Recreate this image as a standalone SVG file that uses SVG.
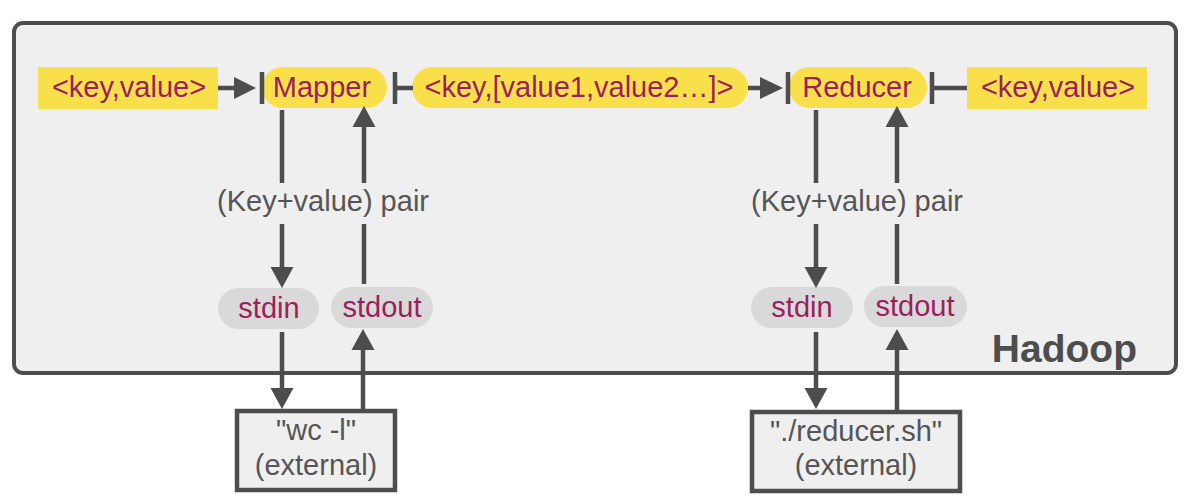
<svg xmlns="http://www.w3.org/2000/svg" width="1200" height="503" viewBox="0 0 1200 503">
<style>
.t{font-family:"Liberation Sans",Arial,sans-serif;font-size:29px;text-anchor:middle}
.m{fill:#9c1f5c}
.g{fill:#555555}
.y{fill:#f9e04b}
.p{fill:#d9d9d9}
.ln{stroke:#4d4d4d;stroke-width:4.5;fill:none}
.hd{fill:#4d4d4d}
.bx{fill:#efefef;stroke:#4d4d4d;stroke-width:4.5}
</style>
<rect width="1200" height="503" fill="#ffffff"/>
<g id="hadoop">
<rect x="14" y="23" width="1162" height="350" rx="9" fill="#efefef" stroke="#4d4d4d" stroke-width="4"/>
<text x="1137" y="362" text-anchor="end" style="font-family:'Liberation Sans',Arial,sans-serif;font-weight:bold;font-size:39px" fill="#4d4d4d">Hadoop</text>
</g>
<g id="input-kv">
<rect class="y" x="38" y="67" width="180" height="42"/>
<text class="t m" x="129" y="97">&lt;key,value&gt;</text>
</g>
<g id="mapper">
<rect class="y" x="262" y="67" width="125" height="41" rx="20.5"/>
<text class="t m" x="322" y="97">Mapper</text>
</g>
<g id="grouped-kv">
<rect class="y" x="412" y="67" width="336" height="41" rx="20.5"/>
<text class="t m" x="579" y="97">&lt;key,[value1,value2…]&gt;</text>
</g>
<g id="reducer">
<rect class="y" x="789" y="67" width="138" height="41" rx="20.5"/>
<text class="t m" x="857" y="97">Reducer</text>
</g>
<g id="output-kv">
<rect class="y" x="967" y="67" width="180" height="42"/>
<text class="t m" x="1058" y="97">&lt;key,value&gt;</text>
</g>
<g id="mapper-stdin">
<rect class="p" x="218" y="288" width="101" height="41" rx="20.5"/>
<text class="t m" x="269" y="318">stdin</text>
</g>
<g id="mapper-stdout">
<rect class="p" x="331" y="287" width="102" height="41" rx="20.5"/>
<text class="t m" x="382" y="317">stdout</text>
</g>
<g id="reducer-stdin">
<rect class="p" x="751" y="287" width="102" height="41" rx="20.5"/>
<text class="t m" x="802" y="317">stdin</text>
</g>
<g id="reducer-stdout">
<rect class="p" x="864" y="286" width="103" height="41" rx="20.5"/>
<text class="t m" x="915" y="316">stdout</text>
</g>
<g id="wc-external">
<rect class="bx" x="237" y="411" width="158" height="79"/>
<text class="t g" x="316" y="440">"wc -l"</text>
<text class="t g" x="316" y="475">(external)</text>
</g>
<g id="reducer-external">
<rect class="bx" x="752" y="412" width="208" height="79"/>
<text class="t g" x="856" y="441">"./reducer.sh"</text>
<text class="t g" x="856" y="475">(external)</text>
</g>
<g id="connectors">
<path class="ln" d="M218,88 H236 M262,72 V104"/>
<polygon class="hd" points="234,77 256,88 234,99"/>
<path class="ln" d="M395,72 V104 M395,88 H413"/>
<path class="ln" d="M748,88 H762 M788,72 V104"/>
<polygon class="hd" points="760,77 783,88 760,99"/>
<path class="ln" d="M932,72 V104 M932,88 H967"/>
<path class="ln" d="M282,110 V183 M282,224 V268"/>
<polygon class="hd" points="270.5,267 293.5,267 282,288"/>
<path class="ln" d="M364,284 V224 M364,183 V126"/>
<polygon class="hd" points="352.5,127 375.5,127 364,106"/>
<path class="ln" d="M282,332 V389"/>
<polygon class="hd" points="270.5,388 293.5,388 282,409"/>
<path class="ln" d="M363,411 V349"/>
<polygon class="hd" points="351.5,350 374.5,350 363,329"/>
<path class="ln" d="M816,110 V183 M816,224 V268"/>
<polygon class="hd" points="804.5,267 827.5,267 816,288"/>
<path class="ln" d="M897,284 V224 M897,183 V126"/>
<polygon class="hd" points="885.5,127 908.5,127 897,106"/>
<path class="ln" d="M816,332 V389"/>
<polygon class="hd" points="804.5,388 827.5,388 816,409"/>
<path class="ln" d="M897,411 V349"/>
<polygon class="hd" points="885.5,350 908.5,350 897,329"/>
<text class="t g" x="323" y="211">(Key+value) pair</text>
<text class="t g" x="857" y="211">(Key+value) pair</text>
</g>
</svg>
